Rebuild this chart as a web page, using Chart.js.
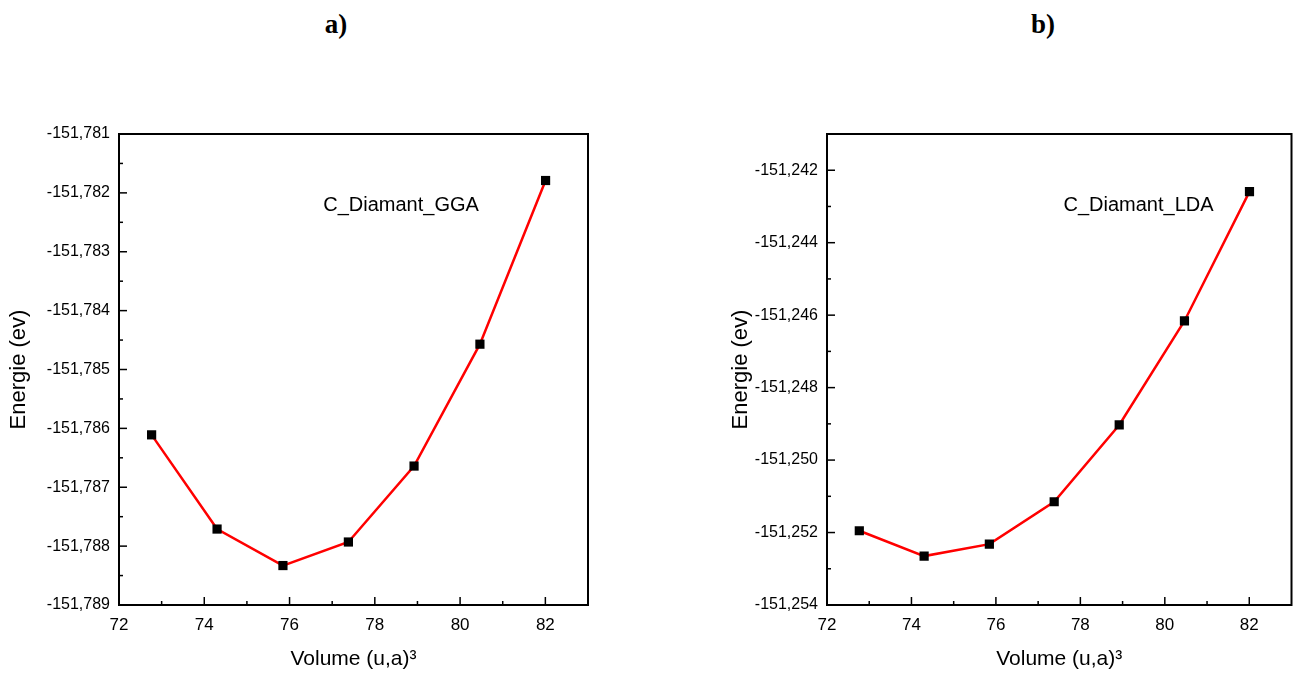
<!DOCTYPE html>
<html>
<head>
<meta charset="utf-8">
<script src="https://cdn.jsdelivr.net/npm/chart.js@4/dist/chart.umd.min.js"></script>
<style>
  body { margin: 0; background: #fff; width: 1298px; height: 679px; position: relative; overflow: hidden; }
  canvas { position: absolute; }
  .tag { position: absolute; font: bold 27px 'Liberation Serif', 'Times New Roman', serif; color: #000; transform: translate(-50%, -50%); }
</style>
</head>
<body>
<div class="tag" style="left:336px; top:24px;">a)</div>
<div class="tag" style="left:1043px; top:24px;">b)</div>
<canvas id="chartA" width="649" height="579" style="left:0; top:100px;"></canvas>
<canvas id="chartB" width="598" height="579" style="left:700px; top:100px;"></canvas>
<script>
// Data
const volumes = [72.765, 74.30, 75.845, 77.38, 78.92, 80.465, 82.005];
const energyGGA = [-151.78611, -151.78771, -151.78833, -151.78793, -151.78664, -151.78457, -151.78179];
const energyLDA = [-151.25195, -151.25265, -151.25232, -151.25115, -151.24903, -151.24616, -151.24259];

// Tick labels
const xTicks = [72, 74, 76, 78, 80, 82];
const yTicksGGA = [-151.789, -151.788, -151.787, -151.786, -151.785, -151.784, -151.783, -151.782, -151.781];
const yTicksLDA = [-151.254, -151.252, -151.250, -151.248, -151.246, -151.244, -151.242];

const fontFamily = "'Liberation Sans', Arial, sans-serif";

// Frame + inward ticks (major and minor), drawn from the scales
const framePlugin = {
  id: 'frame',
  afterDraw(chart) {
    const ctx = chart.ctx;
    const a = chart.chartArea;
    const xs = chart.scales.x;
    const ys = chart.scales.y;
    ctx.save();
    ctx.strokeStyle = '#000';
    ctx.lineWidth = 1.5;

    // x ticks
    const xv = xs.ticks.map(t => t.value);
    xv.forEach((v, i) => {
      const px = xs.getPixelForValue(v);
      ctx.beginPath();
      ctx.moveTo(px, a.bottom);
      ctx.lineTo(px, a.bottom - 8);
      ctx.stroke();
      const step = i < xv.length - 1 ? xv[i + 1] - v : v - xv[i - 1];
      const mv = v + step / 2;
      if (mv < xs.max) {
        const mx = xs.getPixelForValue(mv);
        ctx.beginPath();
        ctx.moveTo(mx, a.bottom);
        ctx.lineTo(mx, a.bottom - 4);
        ctx.stroke();
      }
    });

    // y ticks
    const yv = ys.ticks.map(t => t.value);
    yv.forEach((v, i) => {
      const py = ys.getPixelForValue(v);
      ctx.beginPath();
      ctx.moveTo(a.left, py);
      ctx.lineTo(a.left + 8, py);
      ctx.stroke();
      const step = i < yv.length - 1 ? yv[i + 1] - v : v - yv[i - 1];
      const mv = v + step / 2;
      if (mv < ys.max - 1e-9) {
        const my = ys.getPixelForValue(mv);
        ctx.beginPath();
        ctx.moveTo(a.left, my);
        ctx.lineTo(a.left + 4, my);
        ctx.stroke();
      }
    });

    // box
    ctx.lineWidth = 2;
    ctx.strokeRect(a.left, a.top, a.right - a.left, a.bottom - a.top);

    // annotation label
    const lab = chart.options.plugins.frame;
    ctx.fillStyle = '#000';
    ctx.font = '20px ' + fontFamily;
    ctx.textAlign = 'left';
    ctx.textBaseline = 'middle';
    ctx.fillText(lab.text, xs.getPixelForValue(lab.x), ys.getPixelForValue(lab.y));
    ctx.restore();
  }
};

function makeChart(id, energies, yTicks, yMin, yMax, label, padLeft, yWidth, padRight) {
  const points = volumes.map((v, i) => ({ x: v, y: energies[i] }));
  return new Chart(document.getElementById(id), {
    type: 'scatter',
    data: {
      datasets: [{
        data: points,
        showLine: true,
        borderColor: '#ff0000',
        borderWidth: 2.5,
        tension: 0,
        pointStyle: 'rect',
        pointRadius: 6.5,
        pointBackgroundColor: '#000',
        pointBorderColor: '#000',
        pointBorderWidth: 0
      }]
    },
    options: {
      responsive: false,
      animation: false,
      layout: { padding: { top: 34, left: padLeft, right: padRight, bottom: 0 } },
      plugins: {
        legend: { display: false },
        tooltip: { enabled: false },
        frame: label
      },
      scales: {
        x: {
          type: 'linear',
          min: 72,
          max: 83,
          afterBuildTicks: s => { s.ticks = xTicks.map(v => ({ value: v })); },
          afterFit: s => { s.height = 74; },
          grid: { display: false, drawTicks: false },
          border: { display: false },
          ticks: {
            autoSkip: false,
            maxRotation: 0,
            padding: 10,
            color: '#000',
            font: { family: fontFamily, size: 17 },
            callback: v => String(v)
          },
          title: {
            display: true,
            text: 'Volume (u,a)\u00b3',
            color: '#000',
            font: { family: fontFamily, size: 21 },
            padding: { top: 0, bottom: 7 }
          }
        },
        y: {
          type: 'linear',
          min: yMin,
          max: yMax,
          afterBuildTicks: s => { s.ticks = yTicks.map(v => ({ value: v })); },
          afterFit: s => { s.width = yWidth; },
          grid: { display: false, drawTicks: false },
          border: { display: false },
          ticks: {
            autoSkip: false,
            padding: 9,
            color: '#000',
            font: { family: fontFamily, size: 16 },
            callback: v => v.toFixed(3).replace('.', ',')
          },
          title: {
            display: true,
            text: 'Energie (ev)',
            color: '#000',
            font: { family: fontFamily, size: 22 },
            padding: { top: 6, bottom: 0 }
          }
        }
      }
    },
    plugins: [framePlugin]
  });
}

makeChart('chartA', energyGGA, yTicksGGA, -151.789, -151.781,
  { text: 'C_Diamant_GGA', x: 76.79, y: -151.78221 }, 0, 119, 61);

makeChart('chartB', energyLDA, yTicksLDA, -151.254, -151.241,
  { text: 'C_Diamant_LDA', x: 77.6, y: -151.24298 }, 22, 105, 3);
</script>
</body>
</html>
